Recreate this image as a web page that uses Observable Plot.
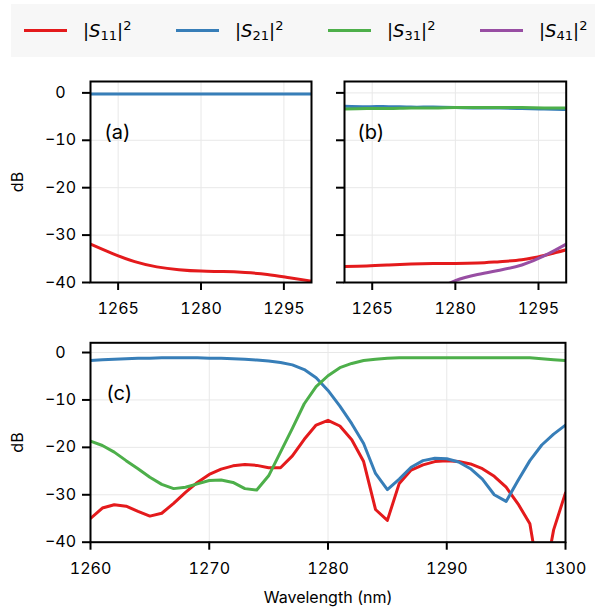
<!DOCTYPE html>
<html><head><meta charset="utf-8">
<script src="https://cdn.jsdelivr.net/npm/d3@7"></script>
<script src="https://cdn.jsdelivr.net/npm/@observablehq/plot@0.6"></script>
<style>
body{margin:0;background:#fff;}
#root{position:relative;width:605px;height:610px;overflow:hidden;}
#legend{position:absolute;left:11px;top:4px;width:584px;height:53px;background:#f7f7f7;}
.swatch{position:absolute;top:24.5px;width:43px;height:3px;}
.lab{position:absolute;top:0;height:53px;line-height:53px;font-family:"DejaVu Sans",sans-serif;font-size:18px;white-space:nowrap;color:#000;}
.lab i{font-style:italic;}
.sub{font-size:13px;vertical-align:-3px;line-height:0;}
.sup{font-size:13px;vertical-align:7px;line-height:0;}
.panel{position:absolute;}
</style></head>
<body>
<div id="root"><div id="legend"></div></div>
<script>
// ---- data ----
const seriesNames = ["S11", "S21", "S31", "S41"];
const seriesSubs = ["11", "21", "31", "41"];
const seriesColors = ["#e41a1c", "#377eb8", "#4daf4a", "#984ea3"];

const xTicksAB = [1265, 1280, 1295];
const xTicksC = [1260, 1270, 1280, 1290, 1300];
const yTicks = [0, -10, -20, -30, -40];
const panelLabels = ["(a)", "(b)", "(c)"];
const xLabel = "Wavelength (nm)";
const yLabel = "dB";

// panels (a) and (b): smooth curves
const wavelengthAB = [1260, 1264, 1268, 1272, 1276, 1280, 1284, 1288, 1292, 1296, 1300];
const s11A = [-31.9, -33.9, -35.6, -36.7, -37.3, -37.6, -37.7, -37.9, -38.3, -39.0, -39.7];
const s21A = [-0.25, -0.25, -0.25, -0.25, -0.25, -0.25, -0.25, -0.25, -0.25, -0.25, -0.25];
const s11B = [-36.6, -36.5, -36.3, -36.1, -36.0, -36.0, -35.9, -35.6, -35.2, -34.3, -33.1];
const s21B = [-2.8, -2.9, -2.9, -3.0, -3.0, -3.1, -3.2, -3.2, -3.3, -3.4, -3.5];
const s31B = [-3.4, -3.3, -3.3, -3.2, -3.2, -3.1, -3.1, -3.1, -3.1, -3.2, -3.2];
const s41B = [null, null, null, null, -42.0, -39.6, -38.3, -37.4, -36.3, -34.4, -31.9];

// panel (c)
const wavelengthC = [1260, 1261, 1262, 1263, 1264, 1265, 1266, 1267, 1268, 1269, 1270,
  1271, 1272, 1273, 1274, 1275, 1276, 1277, 1278, 1279, 1280,
  1281, 1282, 1283, 1284, 1285, 1286, 1287, 1288, 1289, 1290,
  1291, 1292, 1293, 1294, 1295, 1296, 1297, 1298, 1299, 1300];
const s11C = [-35.0, -32.8, -32.1, -32.4, -33.5, -34.5, -33.9, -31.8, -29.5, -27.4, -25.7,
  -24.6, -23.9, -23.6, -23.8, -24.3, -24.3, -21.8, -18.3, -15.3, -14.3,
  -15.5, -18.4, -23.0, -33.1, -35.4, -27.6, -24.8, -23.7, -23.0, -22.8,
  -23.0, -23.5, -24.5, -26.1, -28.4, -31.9, -36.1, -51.0, -37.4, -29.6];
const s21C = [-1.7, -1.5, -1.4, -1.3, -1.2, -1.2, -1.1, -1.1, -1.1, -1.1, -1.2,
  -1.2, -1.3, -1.4, -1.6, -1.8, -2.1, -2.6, -3.6, -5.3, -8.0,
  -11.3, -15.0, -19.2, -25.5, -28.9, -26.7, -24.2, -22.8, -22.3, -22.4,
  -23.1, -24.5, -26.7, -30.0, -31.4, -27.0, -22.8, -19.5, -17.2, -15.3];
const s31C = [-18.7, -19.6, -21.0, -22.8, -24.5, -26.3, -27.8, -28.7, -28.4, -27.7, -27.0,
  -26.9, -27.4, -28.7, -29.0, -26.0, -21.0, -16.0, -10.8, -7.2, -4.9,
  -3.2, -2.3, -1.7, -1.4, -1.2, -1.1, -1.1, -1.1, -1.1, -1.1,
  -1.1, -1.1, -1.1, -1.1, -1.1, -1.1, -1.1, -1.3, -1.5, -1.7];

// ---- helpers ----
function rows(xs, seriesArrays) {
  const out = [];
  seriesArrays.forEach(([name, ys]) => {
    xs.forEach((x, i) => out.push({x, y: ys[i], series: name}));
  });
  return out;
}

const gridStyle = {stroke: "#e8e8e8", strokeOpacity: 1, strokeWidth: 1};
const fmtY = d3.format("d");

function panel({data, curve, xTicks, yTop, showY, label, labelDx, width, height,
                marginLeft, marginRight, marginTop, marginBottom, showXLabel}) {
  const marks = [
    Plot.gridX(xTicks, gridStyle),
    Plot.gridY(yTicks, gridStyle),
    Plot.line(data, {x: "x", y: "y", z: "series", stroke: "series", strokeWidth: 3,
                     curve, clip: true}),
    Plot.frame({stroke: "black", strokeWidth: 2}),
    Plot.axisX(xTicks, {tickSize: 8, tickPadding: 12, strokeWidth: 2, label: null,
                        tickFormat: d => String(d), fontSize: 16}),
    Plot.axisY(yTicks, {tickSize: 8, tickPadding: 22, textAnchor: "middle", strokeWidth: 2,
                        label: null, fontSize: 16,
                        tickFormat: showY ? (d => fmtY(d)) : (() => "")}),
    Plot.text([label], {frameAnchor: "top-left", dx: labelDx, dy: 51, textAnchor: "start",
                        lineAnchor: "middle", fontSize: 20})
  ];
  if (showY) {
    marks.push(Plot.text([yLabel], {frameAnchor: "left", dx: -72.5, rotate: -90,
                                    textAnchor: "middle", lineAnchor: "middle", fontSize: 16}));
  }
  if (showXLabel) {
    marks.push(Plot.text([xLabel], {frameAnchor: "bottom", dy: 56, textAnchor: "middle",
                                    lineAnchor: "middle", fontSize: 16}));
  }
  return Plot.plot({
    width, height, marginLeft, marginRight, marginTop, marginBottom,
    style: {fontFamily: "Inter, sans-serif", fontSize: "16px", color: "#000",
            background: "transparent", overflow: "visible"},
    x: {domain: [1260, 1300]},
    y: {domain: [-40, yTop]},
    color: {domain: seriesNames, range: seriesColors},
    marks
  });
}

const root = document.getElementById("root");
function place(svg, left, top) {
  const d = document.createElement("div");
  d.className = "panel";
  d.style.left = left + "px";
  d.style.top = top + "px";
  d.appendChild(svg);
  root.appendChild(d);
}

place(panel({
  data: rows(wavelengthAB, [["S11", s11A], ["S21", s21A]]),
  curve: "natural", xTicks: xTicksAB, yTop: 2.4, showY: true, label: panelLabels[0], labelDx: 14,
  width: 320, height: 250, marginLeft: 90, marginRight: 9, marginTop: 11, marginBottom: 38
}), 0, 70);

place(panel({
  data: rows(wavelengthAB, [["S11", s11B], ["S21", s21B], ["S31", s31B], ["S41", s41B]]),
  curve: "natural", xTicks: xTicksAB, yTop: 2.4, showY: false, label: panelLabels[1], labelDx: 13,
  width: 285, height: 250, marginLeft: 24, marginRight: 39.3, marginTop: 11, marginBottom: 38
}), 320, 70);

place(panel({
  data: rows(wavelengthC, [["S11", s11C], ["S21", s21C], ["S31", s31C]]),
  curve: "linear", xTicks: xTicksC, yTop: 2.05, showY: true, label: panelLabels[2], labelDx: 16,
  showXLabel: true,
  width: 605, height: 280, marginLeft: 90, marginRight: 40, marginTop: 12.3, marginBottom: 68.3
}), 0, 330);

// ---- legend ----
const legend = document.getElementById("legend");
seriesNames.forEach((name, i) => {
  const sw = document.createElement("div");
  sw.className = "swatch";
  sw.style.left = (13 + 152 * i) + "px";
  sw.style.background = seriesColors[i];
  legend.appendChild(sw);
  const lab = document.createElement("div");
  lab.className = "lab";
  lab.style.left = (72 + 152 * i) + "px";
  lab.innerHTML = `|<i>S</i><span class="sub">${seriesSubs[i]}</span>|<span class="sup">2</span>`;
  legend.appendChild(lab);
});
</script>
</body></html>
